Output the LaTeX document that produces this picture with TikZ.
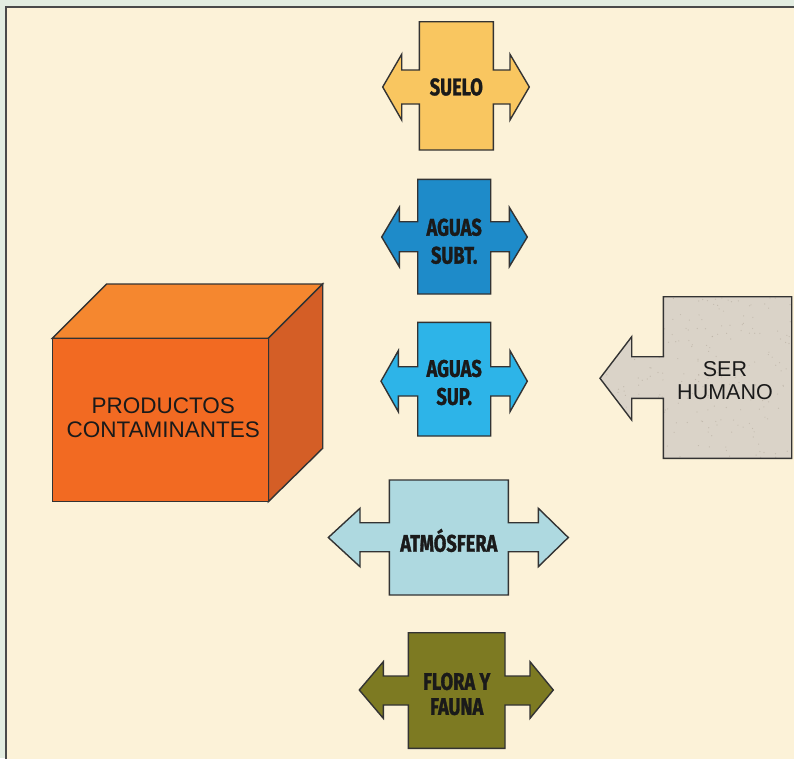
\documentclass[tikz,border=0pt]{standalone}
\usepackage{fontspec}
\setmainfont{Liberation Sans}
\newfontfamily\labfont[FakeStretch=0.76, BoldFeatures={FakeBold=1.3}]{Fira Sans}
\definecolor{outerbg}{HTML}{E3EDE1}
\definecolor{innerbg}{HTML}{FCF2D8}
\definecolor{framec}{HTML}{4A4A4A}
\definecolor{edgec}{HTML}{333333}
\definecolor{suelo}{HTML}{F9C660}
\definecolor{subt}{HTML}{1E8BC9}
\definecolor{sup}{HTML}{2DB4E8}
\definecolor{atmo}{HTML}{AED9E0}
\definecolor{flora}{HTML}{7D7A22}
\definecolor{humano}{HTML}{DAD3C8}
\definecolor{speck}{HTML}{B8AFA2}
\definecolor{cubefront}{HTML}{F26A22}
\definecolor{cubetop}{HTML}{F5872F}
\definecolor{cubeside}{HTML}{D45E26}
\definecolor{textc}{HTML}{1A1A1A}
\tikzset{
  shapeline/.style={draw=edgec, line width=1.4pt, line join=miter},
  lab/.style={text=textc, font=\labfont\bfseries\fontsize{24}{28}\selectfont, align=center, inner sep=0pt},
  plain/.style={text=textc, align=center, inner sep=0pt}
}
\begin{document}
\begin{tikzpicture}[x=1pt,y=-1pt]
\useasboundingbox (0,0) rectangle (794,758);
\fill[outerbg] (0,0) rectangle (794,758);
\filldraw[fill=innerbg, draw=framec, line width=2pt] (6,7) rectangle (810,770);

% SUELO
\draw[shapeline, fill=suelo]
  (419.3,21.7) -- (493.3,21.7) -- (493.3,70) -- (510,70) -- (510,54.3) -- (529.3,87) -- (510,120) -- (510,104)
  -- (493.3,104) -- (493.3,150) -- (419.3,150) -- (419.3,104) -- (401.7,104) -- (401.7,120) -- (382.7,87)
  -- (401.7,54.3) -- (401.7,70) -- (419.3,70) -- cycle;
\node[lab] (suelo) at (456.3,87) {SUELO};

% AGUAS SUBT.
\draw[shapeline, fill=subt]
  (417.7,179.3) -- (490.7,179.3) -- (490.7,221.7) -- (509.3,221.7) -- (509.3,207.3) -- (527.3,237) -- (509.3,266.7) -- (509.3,251.7)
  -- (490.7,251.7) -- (490.7,294) -- (417.7,294) -- (417.7,251.7) -- (399.3,251.7) -- (399.3,266.7) -- (381.7,237)
  -- (399.3,207.3) -- (399.3,221.7) -- (417.7,221.7) -- cycle;
\node[lab] (subt) at (454.2,241.3) {AGUAS\\SUBT.};

% AGUAS SUP.
\draw[shapeline, fill=sup]
  (417.7,322.3) -- (490.7,322.3) -- (490.7,366.7) -- (510,366.7) -- (510,350.7) -- (527.3,381.2) -- (510,411.7) -- (510,396)
  -- (490.7,396) -- (490.7,436) -- (417.7,436) -- (417.7,396) -- (398.3,396) -- (398.3,411.7) -- (381,381.2)
  -- (398.3,350.7) -- (398.3,366.7) -- (417.7,366.7) -- cycle;
\node[lab] (sup) at (454.2,382.5) {AGUAS\\SUP.};

% ATMOSFERA
\draw[shapeline, fill=atmo]
  (389.3,480) -- (508.3,480) -- (508.3,522.7) -- (538.3,522.7) -- (538.3,508.3) -- (568.3,537.5) -- (538.3,566.7) -- (538.3,551.7)
  -- (508.3,551.7) -- (508.3,595) -- (389.3,595) -- (389.3,551.7) -- (360,551.7) -- (360,566.7) -- (328.3,537.5)
  -- (360,508.3) -- (360,522.7) -- (389.3,522.7) -- cycle;
\node[lab, anchor=base] (atmo) at (448.8,551.7) {ATMÓSFERA};

% FLORA Y FAUNA
\draw[shapeline, fill=flora]
  (408.3,632.7) -- (505,632.7) -- (505,676) -- (530,676) -- (530,661.7) -- (553.3,690) -- (530,718.3) -- (530,705)
  -- (505,705) -- (505,748.3) -- (408.3,748.3) -- (408.3,705) -- (383.3,705) -- (383.3,718.3) -- (359.3,690)
  -- (383.3,661.7) -- (383.3,676) -- (408.3,676) -- cycle;
\node[lab, font=\labfont\bfseries\fontsize{24}{25}\selectfont] (flora) at (456.7,694) {FLORA Y\\FAUNA};

% SER HUMANO
\def\humanopath{(663.3,296.7) -- (791.7,296.7) -- (791.7,458.3) -- (663.3,458.3) -- (663.3,398.3) -- (631.7,398.3) -- (631.7,420)
  -- (600,378.3) -- (631.7,336.7) -- (631.7,356.7) -- (663.3,356.7) -- cycle}
\fill[humano] \humanopath;
\begin{scope}
  \clip \humanopath;
  \pgfmathsetseed{11}
  \foreach \i in {1,...,260}{
    \pgfmathsetmacro\px{600+192*rnd}
    \pgfmathsetmacro\py{297+162*rnd}
    \fill[speck, opacity=0.7] (\px,\py) circle (0.6);
  }
\end{scope}
\draw[shapeline] \humanopath;
\node[plain, font=\fontsize{21.5}{23}\selectfont] (humano) at (725,381) {SER\\HUMANO};

% CUBE
\draw[shapeline, fill=cubetop] (52.3,338.3) -- (106.7,284) -- (322.7,284) -- (268.3,338.3) -- cycle;
\draw[shapeline, fill=cubeside] (268.3,338.3) -- (322.7,284) -- (322.7,448.3) -- (268.3,501.7) -- cycle;
\draw[shapeline, fill=cubefront] (52.3,338.3) rectangle (268.3,501.7);
\node[plain, font=\fontsize{22.5}{24}\selectfont] (prod) at (163.3,418) {PRODUCTOS\\CONTAMINANTES};
\end{tikzpicture}
\end{document}
